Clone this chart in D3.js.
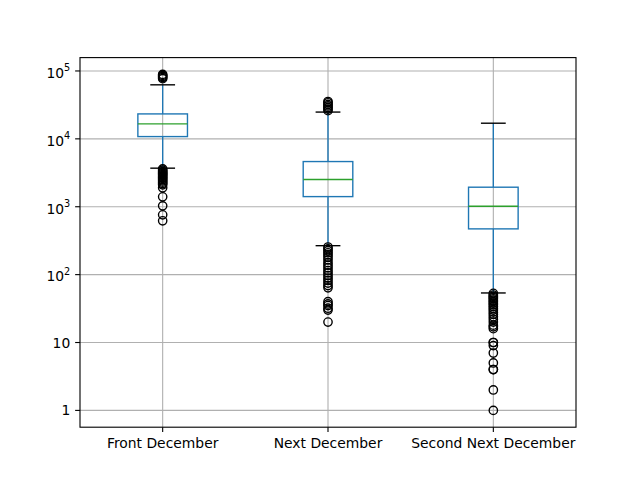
<!DOCTYPE html>
<html>
<head>
<meta charset="utf-8">
<script src="https://cdn.jsdelivr.net/npm/d3@7/dist/d3.min.js"></script>
<style>
  html, body { margin: 0; padding: 0; background: #fff; }
  svg text { font-family: "DejaVu Sans", sans-serif; fill: #000; }
</style>
</head>
<body>
<svg id="chart" width="640" height="480"></svg>
<script>
// ---- data ----
const categories = ["Front December", "Next December", "Second Next December"];
const q1 = [10800, 1410, 472];
const medians = [16600, 2520, 1019];
const q3 = [23300, 4630, 1940];
const whiskerLow = [3700, 267, 53.7];
const whiskerHigh = [62500, 24800, 17000];
const outliersFront = [89000, 86000, 83000, 80000, 77000,
  3600, 3450, 3300, 3200, 3100, 3000, 2900, 2800, 2700, 2600, 2500, 2400, 2300, 2200, 2100,
  1900, 1400, 1030, 760, 620];
const outliersNext = [35500, 34000, 32000, 30500, 29000, 27500, 26000,
  255, 240, 225, 210, 195, 180, 165, 150, 138, 126, 115, 106, 97, 89, 82, 75, 69, 64,
  40, 37, 35, 32, 30, 20];
const outliersSecond = [53, 50, 48, 46, 44, 42, 40, 38, 36, 34, 32, 30, 28, 26, 24, 22, 20, 18, 17, 16,
  10, 10, 9, 7, 5, 4, 4, 2, 1];
const outliers = [outliersFront, outliersNext, outliersSecond];
const yTicks = [1, 10, 100, 1000, 10000, 100000];
const yTickLabels = [["1", ""], ["10", ""], ["10", "2"], ["10", "3"], ["10", "4"], ["10", "5"]];

// ---- layout ----
const svg = d3.select("#chart");
const L = 80, R = 576, T = 57.6, B = 427.2;
const pt = 100 / 72;

const allVals = outliers.flat().concat(whiskerLow, whiskerHigh);
const lmin = Math.log10(d3.min(allVals)), lmax = Math.log10(d3.max(allVals));
const m = (lmax - lmin) * 0.05;
const y = d3.scaleLog().domain([Math.pow(10, lmin - m), Math.pow(10, lmax + m)]).range([B, T]);
const x = d3.scaleLinear().domain([0.5, 3.5]).range([L, R]);
const pos = categories.map((c, i) => i + 1);
const boxW = 0.3;

// grid
const g = svg.append("g");
g.selectAll("line.gy").data(yTicks).join("line")
  .attr("x1", L).attr("x2", R)
  .attr("y1", d => y(d)).attr("y2", d => y(d))
  .attr("stroke", "#b0b0b0").attr("stroke-width", 0.8 * pt);
g.selectAll("line.gx").data(pos).join("line")
  .attr("x1", d => x(d)).attr("x2", d => x(d))
  .attr("y1", T).attr("y2", B)
  .attr("stroke", "#b0b0b0").attr("stroke-width", 0.8 * pt);

// boxes
const blue = "#1f77b4", green = "#2ca02c";
const lw = 1 * pt;
categories.forEach((c, i) => {
  const p = pos[i];
  const bg = svg.append("g");
  // whiskers
  bg.append("line").attr("x1", x(p)).attr("x2", x(p))
    .attr("y1", y(q1[i])).attr("y2", y(whiskerLow[i]))
    .attr("stroke", blue).attr("stroke-width", lw);
  bg.append("line").attr("x1", x(p)).attr("x2", x(p))
    .attr("y1", y(q3[i])).attr("y2", y(whiskerHigh[i]))
    .attr("stroke", blue).attr("stroke-width", lw);
  // caps
  [whiskerLow[i], whiskerHigh[i]].forEach(v => {
    bg.append("line").attr("x1", x(p - boxW / 4)).attr("x2", x(p + boxW / 4))
      .attr("y1", y(v)).attr("y2", y(v))
      .attr("stroke", "#000").attr("stroke-width", lw);
  });
  // box
  bg.append("rect").attr("x", x(p - boxW / 2)).attr("width", x(p + boxW / 2) - x(p - boxW / 2))
    .attr("y", y(q3[i])).attr("height", y(q1[i]) - y(q3[i]))
    .attr("fill", "none").attr("stroke", blue).attr("stroke-width", lw);
  // median
  bg.append("line").attr("x1", x(p - boxW / 2)).attr("x2", x(p + boxW / 2))
    .attr("y1", y(medians[i])).attr("y2", y(medians[i]))
    .attr("stroke", green).attr("stroke-width", lw);
  // fliers
  bg.selectAll("circle").data(outliers[i]).join("circle")
    .attr("cx", x(p)).attr("cy", d => y(d)).attr("r", 3 * pt)
    .attr("fill", "none").attr("stroke", "#000").attr("stroke-width", lw);
});

// spines
svg.append("rect").attr("x", L).attr("y", T).attr("width", R - L).attr("height", B - T)
  .attr("fill", "none").attr("stroke", "#000").attr("stroke-width", 0.8 * pt);

// y ticks
const tl = 3.5 * pt;
const fs = 10 * pt;
yTicks.forEach((t, i) => {
  const yy = y(t);
  svg.append("line").attr("x1", L - tl).attr("x2", L).attr("y1", yy).attr("y2", yy)
    .attr("stroke", "#000").attr("stroke-width", 0.8 * pt);
  const lab = yTickLabels[i];
  const txt = svg.append("text").attr("x", L - tl - 3.5 * pt)
    .attr("y", yy + (lab[1] ? 6.8 : 5)).attr("text-anchor", "end")
    .attr("font-size", fs);
  txt.append("tspan").text(lab[0]);
  if (lab[1]) {
    txt.append("tspan").attr("font-size", fs * 0.7).attr("dy", -6.3).text(lab[1]);
  }
});

// x ticks
pos.forEach((p, i) => {
  svg.append("line").attr("x1", x(p)).attr("x2", x(p)).attr("y1", B).attr("y2", B + tl)
    .attr("stroke", "#000").attr("stroke-width", 0.8 * pt);
  svg.append("text").attr("x", x(p)).attr("y", B + tl + 3.5 * pt + 10.6)
    .attr("text-anchor", "middle").attr("font-size", fs).text(categories[i]);
});
</script>
</body>
</html>
